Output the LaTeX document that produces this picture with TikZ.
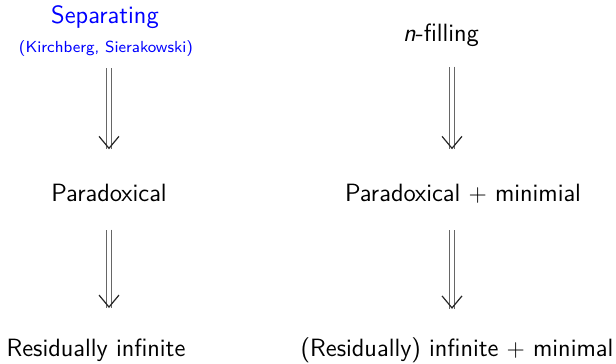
\documentclass[tikz,border=0pt]{standalone}
\usepackage{tikz}
\usetikzlibrary{arrows.meta,calc,decorations.markings}

\begin{document}
\begin{tikzpicture}[x=0.5pt,y=-0.5pt,
  txt/.style={inner sep=0pt,anchor=base,font=\sffamily\fontsize{12.5}{15}\selectfont},
  note/.style={inner sep=0pt,anchor=base,font=\sffamily\fontsize{8}{10}\selectfont},
  imp/.style={double,double distance=2.4pt,line width=0.5pt,draw=gray!80!black,
    postaction={decorate,decoration={markings,mark=at position 1 with
      {\pgfsetinnerlinewidth{0pt}\arrow[line width=0.6pt,black!85]{Straight Barb[length=6pt,width=10pt]}}}}}]
  \useasboundingbox (0,0) rectangle (616,364);

  % Left column
  \node[txt,blue] (sep) at (105,24) {Separating};
  \node[note,blue] (kb) at (106,52) {(Kirchberg, Sierakowski)};
  \node[txt] (para) at (109,201) {Paradoxical};
  \node[txt] (resid) at (96,356) {Residually infinite};

  % Right column
  \node[txt] (nfill) at (441,41) {\textit{n}-filling};
  \node[txt] (pm) at (463,201) {Paradoxical $+$ minimial};
  \node[txt] (rm) at (457,356) {(Residually) infinite $+$ minimal};

  \coordinate (lc) at (109,0);
  \coordinate (rc) at (452,0);

  % Implications
  \draw[imp,shorten <=6pt] (kb.south -| lc) -- ($(para.north -| lc)+(0,17pt)$);
  \draw[imp,shorten <=14pt] (para.south -| lc) -- ($(resid.north -| lc)+(0,15pt)$);
  \draw[imp,shorten <=10pt] (nfill.south -| rc) -- ($(pm.north -| rc)+(0,17pt)$);
  \draw[imp,shorten <=13.5pt] (pm.south -| rc) -- ($(rm.north -| rc)+(0,14pt)$);
\end{tikzpicture}
\end{document}
